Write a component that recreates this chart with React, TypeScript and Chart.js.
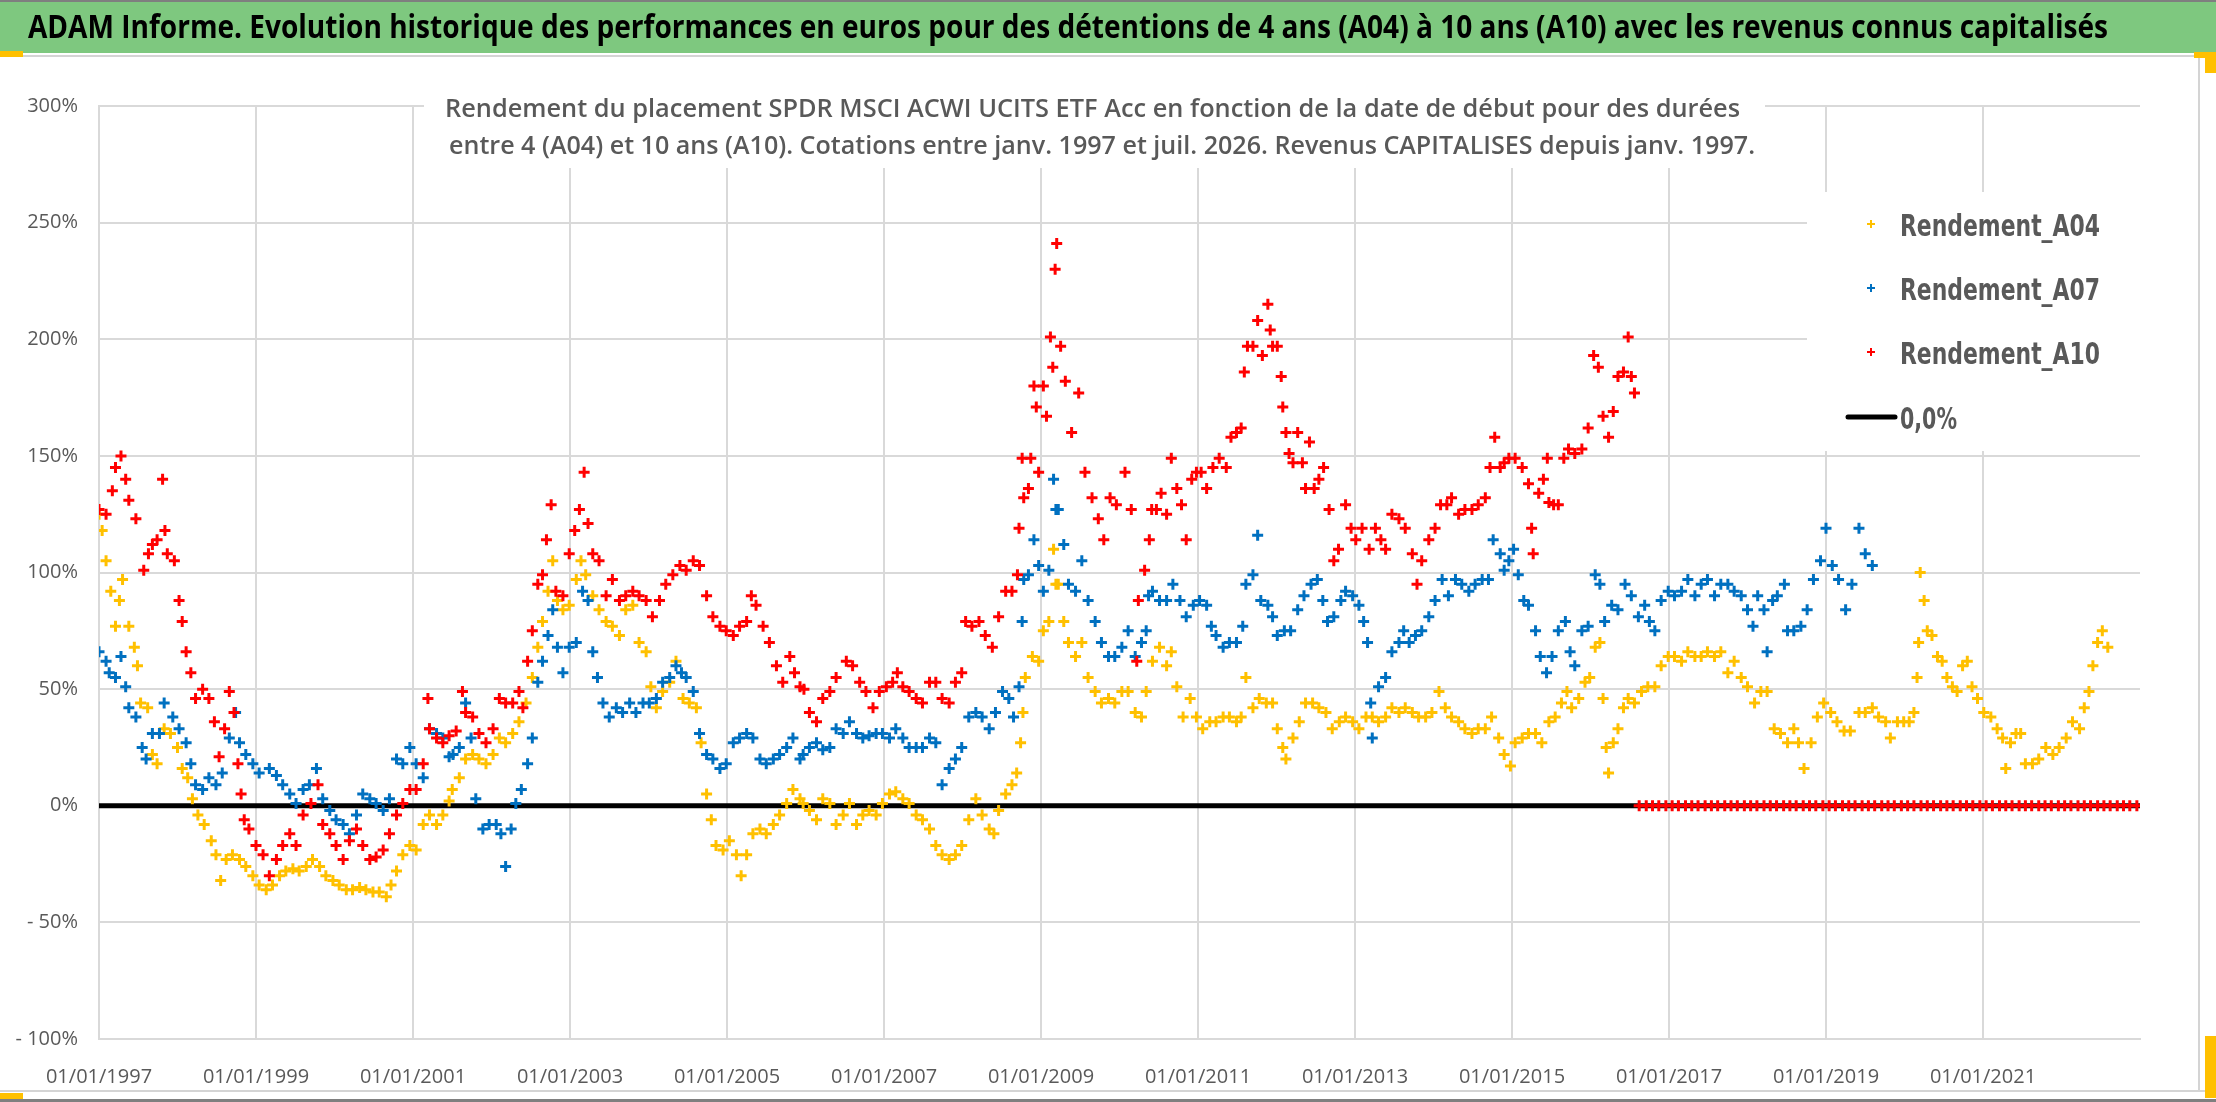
import { useEffect, useRef } from 'react';
import { Chart, registerables } from 'chart.js';

Chart.register(...registerables);

const W = 2216;
const H = 1102;

const BANNER =
  'ADAM Informe. Evolution historique des performances en euros pour des détentions de 4 ans (A04) à 10 ans (A10) avec les revenus connus capitalisés';
const TITLE_LINES = [
  'Rendement du placement SPDR MSCI ACWI UCITS ETF Acc en fonction de la date de début pour des durées',
  'entre 4 (A04) et 10 ans (A10). Cotations entre janv. 1997 et juil. 2026. Revenus CAPITALISES depuis janv. 1997.',
];
const SERIES_NAMES = ['Rendement_A04', 'Rendement_A07', 'Rendement_A10'];
const ZERO_NAME = '0,0%';
const COLORS = ['#FFC000', '#0070C0', '#FF0000'];

// date de début (année décimale), x axis ticks every 2 years
const X_TICKS = [1997, 1999, 2001, 2003, 2005, 2007, 2009, 2011, 2013, 2015, 2017, 2019, 2021];
const X_MIN = 1997;
const X_MAX = 2023;
const Y_MIN = -100;
const Y_MAX = 300;
const Y_STEP = 50;

// [date de début, rendement %]
const A04: [number, number][] = [
  [1997.00, 125], [1997.04, 118], [1997.09, 105], [1997.15, 92], [1997.21, 77], [1997.26, 88], [1997.30, 97], [1997.38, 77],
  [1997.45, 68], [1997.49, 60], [1997.53, 44], [1997.62, 42], [1997.68, 22], [1997.74, 18], [1997.83, 33], [1997.91, 31],
  [1998.00, 25], [1998.06, 16], [1998.13, 12], [1998.19, 3], [1998.26, -4], [1998.34, -8], [1998.43, -15], [1998.49, -21],
  [1998.55, -32], [1998.62, -23], [1998.70, -21], [1998.79, -23], [1998.87, -26], [1998.96, -30], [1999.04, -34], [1999.13, -36],
  [1999.21, -34], [1999.30, -30], [1999.38, -28], [1999.47, -27], [1999.55, -28], [1999.64, -26], [1999.72, -23], [1999.81, -26],
  [1999.89, -30], [1999.98, -32], [2000.06, -34], [2000.15, -36], [2000.23, -36], [2000.32, -35], [2000.40, -36], [2000.49, -37],
  [2000.57, -37], [2000.66, -39], [2000.72, -34], [2000.79, -28], [2000.87, -21], [2000.96, -17], [2001.04, -19], [2001.13, -8],
  [2001.21, -4], [2001.30, -8], [2001.38, -4], [2001.46, 2], [2001.50, 7], [2001.59, 12], [2001.67, 20], [2001.76, 22],
  [2001.84, 20], [2001.93, 18], [2002.02, 22], [2002.10, 29], [2002.18, 27], [2002.27, 31], [2002.35, 36], [2002.44, 44],
  [2002.52, 55], [2002.59, 68], [2002.65, 79], [2002.72, 92], [2002.78, 105], [2002.84, 88], [2002.91, 84], [2002.99, 86],
  [2003.08, 97], [2003.14, 105], [2003.20, 99], [2003.29, 90], [2003.37, 84], [2003.46, 79], [2003.54, 77], [2003.63, 73],
  [2003.71, 84], [2003.80, 86], [2003.88, 70], [2003.97, 66], [2004.03, 51], [2004.10, 42], [2004.18, 49], [2004.27, 53],
  [2004.35, 62], [2004.44, 46], [2004.52, 44], [2004.61, 42], [2004.67, 27], [2004.74, 5], [2004.80, -6], [2004.86, -17],
  [2004.95, -19], [2005.03, -15], [2005.12, -21], [2005.18, -30], [2005.25, -21], [2005.33, -12], [2005.42, -10], [2005.50, -12],
  [2005.59, -8], [2005.67, -4], [2005.76, 1], [2005.84, 7], [2005.93, 3], [2005.97, 1], [2006.05, -2], [2006.14, -6],
  [2006.22, 3], [2006.31, 1], [2006.39, -8], [2006.48, -4], [2006.56, 1], [2006.65, -8], [2006.73, -4], [2006.81, -2],
  [2006.90, -4], [2006.98, 1], [2007.07, 5], [2007.15, 6], [2007.24, 3], [2007.32, 1], [2007.41, -4], [2007.49, -6],
  [2007.58, -10], [2007.66, -17], [2007.74, -21], [2007.83, -23], [2007.91, -21], [2007.99, -17], [2008.08, -6], [2008.17, 3],
  [2008.25, -4], [2008.34, -10], [2008.40, -12], [2008.46, -2], [2008.55, 5], [2008.63, 9], [2008.69, 14], [2008.74, 27],
  [2008.77, 40], [2008.80, 55], [2008.89, 64], [2008.97, 62], [2009.03, 75], [2009.10, 79], [2009.16, 110], [2009.19, 95],
  [2009.22, 95], [2009.29, 79], [2009.35, 70], [2009.44, 64], [2009.52, 70], [2009.60, 55], [2009.69, 49], [2009.77, 44],
  [2009.86, 46], [2009.94, 44], [2010.03, 49], [2010.11, 49], [2010.20, 40], [2010.28, 38], [2010.34, 49], [2010.42, 62],
  [2010.51, 68], [2010.60, 60], [2010.66, 66], [2010.73, 51], [2010.81, 38], [2010.90, 46], [2010.98, 38], [2011.06, 33],
  [2011.15, 36], [2011.23, 36], [2011.32, 38], [2011.40, 38], [2011.49, 36], [2011.55, 38], [2011.61, 55], [2011.70, 42],
  [2011.78, 46], [2011.87, 44], [2011.95, 44], [2012.01, 33], [2012.08, 25], [2012.12, 20], [2012.21, 29], [2012.29, 36],
  [2012.37, 44], [2012.46, 44], [2012.54, 42], [2012.63, 40], [2012.71, 33], [2012.80, 36], [2012.88, 38], [2012.97, 36],
  [2013.05, 33], [2013.14, 38], [2013.22, 38], [2013.30, 36], [2013.39, 38], [2013.47, 42], [2013.56, 40], [2013.64, 42],
  [2013.73, 40], [2013.81, 38], [2013.90, 38], [2013.98, 40], [2014.07, 49], [2014.15, 42], [2014.23, 38], [2014.32, 36],
  [2014.40, 33], [2014.49, 31], [2014.57, 33], [2014.66, 33], [2014.74, 38], [2014.83, 29], [2014.90, 22], [2014.98, 17],
  [2015.04, 27], [2015.13, 29], [2015.21, 31], [2015.30, 31], [2015.38, 27], [2015.47, 36], [2015.55, 38], [2015.63, 44],
  [2015.70, 49], [2015.76, 42], [2015.85, 46], [2015.93, 53], [2015.99, 55], [2016.06, 68], [2016.12, 70], [2016.16, 46],
  [2016.20, 25], [2016.23, 14], [2016.29, 27], [2016.35, 33], [2016.42, 42], [2016.48, 46], [2016.56, 44], [2016.65, 49],
  [2016.73, 51], [2016.82, 51], [2016.90, 60], [2016.99, 64], [2017.07, 64], [2017.16, 62], [2017.24, 66], [2017.33, 64],
  [2017.41, 64], [2017.49, 66], [2017.58, 64], [2017.66, 66], [2017.75, 57], [2017.83, 62], [2017.92, 55], [2018.00, 51],
  [2018.09, 44], [2018.17, 49], [2018.25, 49], [2018.34, 33], [2018.42, 31], [2018.51, 27], [2018.59, 33], [2018.65, 27],
  [2018.72, 16], [2018.81, 27], [2018.89, 38], [2018.97, 44], [2019.06, 40], [2019.14, 36], [2019.23, 32], [2019.31, 32],
  [2019.42, 40], [2019.50, 40], [2019.59, 42], [2019.67, 38], [2019.76, 36], [2019.82, 29], [2019.91, 36], [2019.99, 36],
  [2020.06, 36], [2020.12, 40], [2020.16, 55], [2020.18, 70], [2020.20, 100], [2020.25, 88], [2020.29, 75], [2020.35, 73],
  [2020.42, 64], [2020.48, 62], [2020.54, 55], [2020.61, 51], [2020.67, 49], [2020.74, 60], [2020.80, 62], [2020.86, 51],
  [2020.93, 46], [2021.01, 40], [2021.10, 38], [2021.18, 33], [2021.25, 29], [2021.29, 16], [2021.35, 27], [2021.42, 31],
  [2021.48, 31], [2021.54, 18], [2021.63, 18], [2021.71, 20], [2021.80, 25], [2021.89, 22], [2021.97, 25], [2022.06, 29],
  [2022.14, 36], [2022.23, 33], [2022.29, 42], [2022.35, 49], [2022.40, 60], [2022.46, 70], [2022.52, 75], [2022.59, 68],
];

const A07: [number, number][] = [
  [1997.00, 66], [1997.09, 62], [1997.13, 57], [1997.21, 55], [1997.28, 64], [1997.34, 51], [1997.38, 42], [1997.47, 38],
  [1997.55, 25], [1997.60, 20], [1997.68, 31], [1997.77, 31], [1997.83, 44], [1997.94, 38], [1998.02, 33], [1998.11, 27],
  [1998.17, 18], [1998.23, 9], [1998.32, 7], [1998.40, 12], [1998.49, 9], [1998.57, 14], [1998.66, 29], [1998.74, 40],
  [1998.79, 27], [1998.87, 22], [1998.96, 18], [1999.04, 14], [1999.17, 16], [1999.26, 13], [1999.34, 9], [1999.43, 5],
  [1999.51, 1], [1999.60, 7], [1999.68, 9], [1999.77, 16], [1999.85, 3], [1999.94, -2], [2000.02, -6], [2000.11, -8],
  [2000.19, -12], [2000.28, -4], [2000.36, 5], [2000.45, 3], [2000.53, 1], [2000.62, -2], [2000.70, 3], [2000.79, 20],
  [2000.87, 18], [2000.96, 25], [2001.04, 18], [2001.13, 12], [2001.21, 33], [2001.30, 31], [2001.38, 29], [2001.46, 21],
  [2001.51, 22], [2001.59, 25], [2001.67, 44], [2001.74, 29], [2001.80, 3], [2001.89, -10], [2001.97, -8], [2002.06, -8],
  [2002.12, -12], [2002.18, -26], [2002.25, -10], [2002.31, 1], [2002.38, 7], [2002.46, 18], [2002.52, 29], [2002.59, 53],
  [2002.65, 62], [2002.72, 73], [2002.78, 84], [2002.84, 68], [2002.91, 57], [2002.99, 68], [2003.08, 70], [2003.16, 92],
  [2003.23, 88], [2003.29, 66], [2003.35, 55], [2003.42, 44], [2003.50, 38], [2003.59, 42], [2003.67, 40], [2003.76, 44],
  [2003.84, 40], [2003.93, 44], [2004.01, 44], [2004.10, 46], [2004.18, 53], [2004.27, 55], [2004.35, 60], [2004.42, 57],
  [2004.48, 55], [2004.57, 49], [2004.65, 31], [2004.74, 22], [2004.82, 20], [2004.91, 16], [2004.99, 18], [2005.08, 27],
  [2005.16, 29], [2005.25, 31], [2005.33, 29], [2005.42, 20], [2005.50, 18], [2005.59, 20], [2005.67, 22], [2005.76, 25],
  [2005.84, 29], [2005.93, 20], [2005.97, 22], [2006.05, 25], [2006.14, 27], [2006.22, 24], [2006.31, 25], [2006.39, 33],
  [2006.48, 31], [2006.56, 36], [2006.65, 31], [2006.73, 29], [2006.81, 30], [2006.90, 31], [2006.98, 31], [2007.07, 29],
  [2007.15, 33], [2007.24, 29], [2007.32, 25], [2007.41, 25], [2007.49, 25], [2007.58, 29], [2007.66, 27], [2007.74, 9],
  [2007.83, 16], [2007.91, 20], [2007.99, 25], [2008.08, 38], [2008.17, 40], [2008.25, 38], [2008.34, 33], [2008.42, 40],
  [2008.51, 49], [2008.59, 46], [2008.65, 38], [2008.72, 51], [2008.76, 79], [2008.78, 97], [2008.84, 99], [2008.91, 114],
  [2008.97, 103], [2009.03, 92], [2009.10, 101], [2009.16, 140], [2009.19, 127], [2009.22, 127], [2009.29, 112], [2009.35, 95],
  [2009.44, 92], [2009.52, 105], [2009.60, 88], [2009.69, 79], [2009.77, 70], [2009.86, 64], [2009.94, 64], [2010.03, 68],
  [2010.11, 75], [2010.20, 64], [2010.28, 70], [2010.34, 75], [2010.37, 90], [2010.42, 92], [2010.51, 88], [2010.60, 88],
  [2010.68, 95], [2010.77, 88], [2010.85, 81], [2010.94, 86], [2011.02, 88], [2011.11, 86], [2011.17, 77], [2011.23, 73],
  [2011.32, 68], [2011.40, 70], [2011.49, 70], [2011.57, 77], [2011.61, 95], [2011.70, 99], [2011.76, 116], [2011.80, 88],
  [2011.89, 86], [2011.95, 81], [2012.01, 73], [2012.10, 75], [2012.18, 75], [2012.27, 84], [2012.35, 90], [2012.44, 95],
  [2012.52, 97], [2012.59, 88], [2012.65, 79], [2012.73, 81], [2012.82, 88], [2012.88, 92], [2012.97, 90], [2013.05, 86],
  [2013.11, 79], [2013.16, 70], [2013.20, 44], [2013.22, 29], [2013.30, 51], [2013.39, 55], [2013.47, 66], [2013.56, 70],
  [2013.62, 75], [2013.69, 70], [2013.77, 73], [2013.85, 75], [2013.94, 81], [2014.02, 88], [2014.11, 97], [2014.19, 90],
  [2014.28, 97], [2014.36, 95], [2014.45, 92], [2014.53, 95], [2014.62, 97], [2014.70, 97], [2014.76, 114], [2014.85, 108],
  [2014.90, 101], [2014.96, 105], [2015.02, 110], [2015.08, 99], [2015.15, 88], [2015.21, 86], [2015.30, 75], [2015.36, 64],
  [2015.44, 57], [2015.51, 64], [2015.59, 75], [2015.68, 79], [2015.74, 66], [2015.80, 60], [2015.89, 75], [2015.97, 77],
  [2016.06, 99], [2016.12, 95], [2016.18, 79], [2016.27, 86], [2016.35, 84], [2016.44, 95], [2016.52, 90], [2016.61, 81],
  [2016.69, 86], [2016.75, 79], [2016.82, 75], [2016.90, 88], [2016.99, 92], [2017.07, 90], [2017.16, 92], [2017.24, 97],
  [2017.33, 90], [2017.41, 95], [2017.49, 97], [2017.58, 90], [2017.66, 95], [2017.75, 95], [2017.83, 92], [2017.92, 90],
  [2018.00, 84], [2018.07, 77], [2018.13, 90], [2018.21, 84], [2018.25, 66], [2018.32, 88], [2018.38, 90], [2018.47, 95],
  [2018.51, 75], [2018.59, 75], [2018.68, 77], [2018.76, 84], [2018.84, 97], [2018.93, 105], [2019.00, 119], [2019.08, 103],
  [2019.16, 97], [2019.25, 84], [2019.33, 95], [2019.42, 119], [2019.50, 108], [2019.59, 103],
];

const A10: [number, number][] = [
  [1997.00, 127], [1997.09, 125], [1997.17, 135], [1997.21, 145], [1997.28, 150], [1997.34, 140], [1997.38, 131], [1997.47, 123],
  [1997.57, 101], [1997.63, 108], [1997.68, 112], [1997.74, 114], [1997.81, 140], [1997.84, 118], [1997.87, 108], [1997.96, 105],
  [1998.02, 88], [1998.06, 79], [1998.11, 66], [1998.17, 57], [1998.23, 46], [1998.32, 50], [1998.40, 46], [1998.47, 36],
  [1998.53, 21], [1998.60, 33], [1998.66, 49], [1998.72, 40], [1998.77, 18], [1998.81, 5], [1998.85, -6], [1998.91, -10],
  [1999.00, -17], [1999.09, -21], [1999.17, -30], [1999.26, -23], [1999.34, -17], [1999.43, -12], [1999.51, -17], [1999.60, -4],
  [1999.70, 1], [1999.79, 9], [1999.85, -8], [1999.94, -12], [2000.02, -17], [2000.11, -23], [2000.19, -15], [2000.28, -10],
  [2000.36, -17], [2000.45, -23], [2000.53, -22], [2000.62, -19], [2000.70, -12], [2000.79, -4], [2000.87, 1], [2000.96, 7],
  [2001.04, 7], [2001.13, 18], [2001.19, 46], [2001.21, 33], [2001.30, 29], [2001.38, 27], [2001.46, 30], [2001.55, 32],
  [2001.63, 49], [2001.67, 40], [2001.76, 38], [2001.84, 31], [2001.93, 27], [2002.02, 33], [2002.10, 46], [2002.18, 44],
  [2002.27, 44], [2002.35, 49], [2002.40, 42], [2002.46, 62], [2002.52, 75], [2002.59, 95], [2002.65, 99], [2002.70, 114],
  [2002.76, 129], [2002.82, 92], [2002.91, 90], [2002.99, 108], [2003.06, 118], [2003.12, 127], [2003.18, 143], [2003.23, 121],
  [2003.29, 108], [2003.37, 105], [2003.46, 90], [2003.54, 97], [2003.63, 88], [2003.71, 90], [2003.80, 92], [2003.88, 90],
  [2003.97, 88], [2004.05, 81], [2004.14, 88], [2004.22, 95], [2004.31, 99], [2004.40, 103], [2004.48, 101], [2004.57, 105],
  [2004.65, 103], [2004.74, 90], [2004.82, 81], [2004.91, 77], [2004.99, 75], [2005.08, 73], [2005.16, 77], [2005.25, 79],
  [2005.31, 90], [2005.37, 86], [2005.46, 77], [2005.54, 70], [2005.63, 60], [2005.71, 53], [2005.80, 64], [2005.86, 57],
  [2005.93, 51], [2005.98, 50], [2006.05, 40], [2006.14, 36], [2006.22, 46], [2006.31, 49], [2006.39, 55], [2006.52, 62],
  [2006.60, 60], [2006.69, 53], [2006.77, 49], [2006.86, 42], [2006.94, 49], [2007.03, 51], [2007.11, 53], [2007.17, 57],
  [2007.24, 51], [2007.32, 49], [2007.41, 46], [2007.49, 44], [2007.58, 53], [2007.66, 53], [2007.74, 46], [2007.83, 44],
  [2007.91, 53], [2007.99, 57], [2008.04, 79], [2008.12, 77], [2008.21, 79], [2008.29, 73], [2008.38, 68], [2008.46, 81],
  [2008.55, 92], [2008.63, 92], [2008.70, 99], [2008.72, 119], [2008.76, 149], [2008.78, 132], [2008.84, 136], [2008.87, 149],
  [2008.91, 180], [2008.94, 171], [2008.97, 143], [2009.03, 180], [2009.07, 167], [2009.12, 201], [2009.15, 188], [2009.18, 230],
  [2009.20, 241], [2009.25, 197], [2009.31, 182], [2009.39, 160], [2009.48, 177], [2009.56, 143], [2009.65, 132], [2009.73, 123],
  [2009.80, 114], [2009.88, 132], [2009.96, 129], [2010.07, 143], [2010.15, 127], [2010.22, 62], [2010.24, 88], [2010.32, 101],
  [2010.38, 114], [2010.41, 127], [2010.47, 127], [2010.53, 134], [2010.60, 125], [2010.66, 149], [2010.73, 136], [2010.79, 129],
  [2010.85, 114], [2010.92, 140], [2010.98, 143], [2011.04, 143], [2011.11, 136], [2011.19, 145], [2011.27, 149], [2011.36, 145],
  [2011.42, 158], [2011.49, 160], [2011.55, 162], [2011.59, 186], [2011.63, 197], [2011.70, 197], [2011.76, 208], [2011.82, 193],
  [2011.89, 215], [2011.92, 204], [2011.95, 197], [2012.01, 197], [2012.06, 184], [2012.08, 171], [2012.12, 160], [2012.16, 151],
  [2012.21, 147], [2012.27, 160], [2012.33, 147], [2012.37, 136], [2012.42, 156], [2012.48, 136], [2012.54, 140], [2012.60, 145],
  [2012.67, 127], [2012.73, 105], [2012.79, 110], [2012.88, 129], [2012.95, 119], [2013.01, 114], [2013.09, 119], [2013.18, 110],
  [2013.26, 119], [2013.33, 114], [2013.39, 110], [2013.47, 125], [2013.56, 123], [2013.64, 119], [2013.73, 108], [2013.79, 95],
  [2013.85, 105], [2013.94, 114], [2014.02, 119], [2014.09, 129], [2014.17, 129], [2014.23, 132], [2014.32, 125], [2014.40, 127],
  [2014.49, 127], [2014.57, 129], [2014.66, 132], [2014.72, 145], [2014.78, 158], [2014.85, 145], [2014.90, 147], [2014.96, 149],
  [2015.04, 149], [2015.13, 145], [2015.21, 138], [2015.25, 119], [2015.27, 108], [2015.34, 134], [2015.40, 140], [2015.45, 149],
  [2015.47, 130], [2015.53, 129], [2015.59, 129], [2015.66, 149], [2015.72, 153], [2015.80, 151], [2015.89, 153], [2015.97, 162],
  [2016.04, 193], [2016.10, 188], [2016.16, 167], [2016.23, 158], [2016.29, 169], [2016.35, 184], [2016.42, 186], [2016.48, 201],
  [2016.52, 184], [2016.56, 177],
];

// A10 has no 10-year window after mid-2016: plotted at 0
const A10_ZERO_DATES = [
  2016.62, 2016.71, 2016.79, 2016.87, 2016.96,
  2017.04, 2017.12, 2017.21, 2017.29, 2017.37, 2017.46, 2017.54, 2017.62, 2017.71, 2017.79, 2017.87, 2017.96,
  2018.04, 2018.12, 2018.21, 2018.29, 2018.37, 2018.46, 2018.54, 2018.62, 2018.71, 2018.79, 2018.87, 2018.96,
  2019.04, 2019.12, 2019.21, 2019.29, 2019.37, 2019.46, 2019.54, 2019.62, 2019.71, 2019.79, 2019.87, 2019.96,
  2020.04, 2020.12, 2020.21, 2020.29, 2020.37, 2020.46, 2020.54, 2020.62, 2020.71, 2020.79, 2020.87, 2020.96,
  2021.04, 2021.12, 2021.21, 2021.29, 2021.37, 2021.46, 2021.54, 2021.62, 2021.71, 2021.79, 2021.87, 2021.96,
  2022.04, 2022.12, 2022.21, 2022.29, 2022.37, 2022.46, 2022.54, 2022.62, 2022.71, 2022.79, 2022.87, 2022.96,
];

const ZERO_LINE_DATES = [1997, 2023];

const TXT = '#595959';
const GRID = '#d9d9d9';
const CALIBRI = '"Open Sans", "Noto Sans", sans-serif';

function fitText(
  ctx: CanvasRenderingContext2D,
  text: string,
  x0: number,
  x1: number,
  baseline: number,
  font: string,
  color: string,
) {
  ctx.save();
  ctx.font = font;
  ctx.fillStyle = color;
  ctx.textAlign = 'left';
  ctx.textBaseline = 'alphabetic';
  const w = ctx.measureText(text).width;
  ctx.translate(x0, baseline);
  ctx.scale((x1 - x0) / w, 1);
  ctx.fillText(text, 0, 0);
  ctx.restore();
}

function drawCross(ctx: CanvasRenderingContext2D, x: number, y: number, r: number, color: string, lw: number) {
  ctx.save();
  ctx.strokeStyle = color;
  ctx.lineWidth = lw;
  ctx.beginPath();
  ctx.moveTo(x - r, y);
  ctx.lineTo(x + r, y);
  ctx.moveTo(x, y - r);
  ctx.lineTo(x, y + r);
  ctx.stroke();
  ctx.restore();
}

const decorPlugin = {
  id: 'decor',
  beforeDraw(chart: Chart) {
    const ctx = chart.ctx;
    ctx.save();
    ctx.fillStyle = '#ffffff';
    ctx.fillRect(0, 0, W, H);
    // green banner
    ctx.fillStyle = '#7f7f7f';
    ctx.fillRect(0, 0, W, 2);
    ctx.fillStyle = '#7ec87f';
    ctx.fillRect(0, 2, W, 51);
    ctx.fillStyle = '#d4d4d4';
    ctx.fillRect(0, 55, W, 2);
    // frame
    ctx.fillRect(2198, 57, 2, 1034);
    ctx.fillRect(0, 1090, W, 2);
    ctx.fillStyle = '#7f7f7f';
    ctx.fillRect(0, 1099, W, 3);
    // selection handles
    ctx.fillStyle = '#ffc000';
    ctx.fillRect(0, 51, 23, 6);
    ctx.fillRect(2194, 52, 22, 6);
    ctx.fillRect(2205, 52, 11, 21);
    ctx.fillRect(2205, 1036, 11, 62);
    ctx.fillRect(0, 1093, 23, 6);
    ctx.restore();
    fitText(ctx, BANNER, 28, 2108, 38, `bold 32px ${CALIBRI}`, '#000000');
  },
  beforeDatasetsDraw(chart: Chart) {
    const ctx = chart.ctx;
    ctx.save();
    ctx.fillStyle = '#ffffff';
    ctx.fillRect(424, 96, 1341, 72);
    ctx.restore();
    fitText(ctx, TITLE_LINES[0], 445, 1740, 117, `600 25px ${CALIBRI}`, TXT);
    fitText(ctx, TITLE_LINES[1], 449, 1755, 154, `600 25px ${CALIBRI}`, TXT);
  },
  afterDatasetsDraw(chart: Chart) {
    const ctx = chart.ctx;
    ctx.save();
    ctx.fillStyle = '#ffffff';
    ctx.fillRect(1807, 192, 333, 259);
    ctx.restore();
    const rows = [236, 300, 364];
    SERIES_NAMES.forEach((name, i) => {
      drawCross(ctx, 1871, rows[i] - 12, 4, COLORS[i], 2);
      fitText(ctx, name, 1900, 2100, rows[i], 'bold 31px "DejaVu Sans"', TXT);
    });
    ctx.save();
    ctx.strokeStyle = '#000000';
    ctx.lineWidth = 5;
    ctx.lineCap = 'round';
    ctx.beginPath();
    ctx.moveTo(1848, 417);
    ctx.lineTo(1895, 417);
    ctx.stroke();
    ctx.restore();
    fitText(ctx, ZERO_NAME, 1900, 1957, 429, 'bold 31px "DejaVu Sans"', TXT);
  },
};

const toPoints = (arr: [number, number][]) => arr.map(([x, y]) => ({ x, y }));

export default function App() {
  const canvasRef = useRef<HTMLCanvasElement>(null);
  const chartRef = useRef<Chart | null>(null);

  useEffect(() => {
    document.body.style.margin = '0';
    document.body.style.overflow = 'hidden';
    if (!canvasRef.current) return;
    if (chartRef.current) chartRef.current.destroy();

    const point = (color: string, order: number) => ({
      showLine: false,
      pointStyle: 'cross' as const,
      pointRadius: 5.5,
      pointBorderWidth: 3,
      borderColor: color,
      backgroundColor: color,
      order,
    });

    chartRef.current = new Chart(canvasRef.current, {
      type: 'scatter',
      data: {
        datasets: [
          { label: ZERO_NAME, type: 'line', data: ZERO_LINE_DATES.map((x) => ({ x, y: 0 })), borderColor: '#000000', borderWidth: 5, pointRadius: 0, order: 4 },
          { label: SERIES_NAMES[0], data: toPoints(A04), ...point(COLORS[0], 3) },
          { label: SERIES_NAMES[1], data: toPoints(A07), ...point(COLORS[1], 2) },
          { label: SERIES_NAMES[2], data: [...toPoints(A10), ...A10_ZERO_DATES.map((x) => ({ x, y: 0 }))], ...point(COLORS[2], 1) },
        ],
      },
      options: {
        responsive: false,
        animation: false,
        devicePixelRatio: 1,
        events: [],
        layout: { padding: { top: 106, left: 0, right: W - 2140, bottom: 0 } },
        plugins: { legend: { display: false }, title: { display: false }, tooltip: { enabled: false } },
        scales: {
          x: {
            type: 'linear',
            min: X_MIN,
            max: X_MAX,
            afterBuildTicks: (axis: any) => {
              axis.ticks = X_TICKS.map((value) => ({ value }));
            },
            afterFit: (axis: any) => {
              axis.height = H - 106 - 933;
            },
            grid: { color: GRID, lineWidth: 2, drawTicks: false },
            border: { color: GRID, width: 2 },
            ticks: {
              autoSkip: false,
              maxRotation: 0,
              padding: 26,
              color: TXT,
              font: { family: CALIBRI, size: 20 },
              callback: (v: any) => `01/01/${Math.round(Number(v))}`,
            },
          },
          y: {
            min: Y_MIN,
            max: Y_MAX,
            afterFit: (axis: any) => {
              axis.width = 99;
            },
            grid: { color: GRID, lineWidth: 2, drawTicks: false },
            border: { color: GRID, width: 2 },
            ticks: {
              stepSize: Y_STEP,
              padding: 21,
              color: TXT,
              font: { family: CALIBRI, size: 20 },
              callback: (v: any) => (Number(v) < 0 ? `- ${-Number(v)}%` : `${v}%`),
            },
          },
        },
      },
      plugins: [decorPlugin],
    });

    return () => {
      if (chartRef.current) {
        chartRef.current.destroy();
        chartRef.current = null;
      }
    };
  }, []);

  return (
    <div style={{ width: W, height: H, position: 'relative' }}>
      <canvas ref={canvasRef} width={W} height={H} style={{ width: W, height: H, display: 'block' }} />
    </div>
  );
}
